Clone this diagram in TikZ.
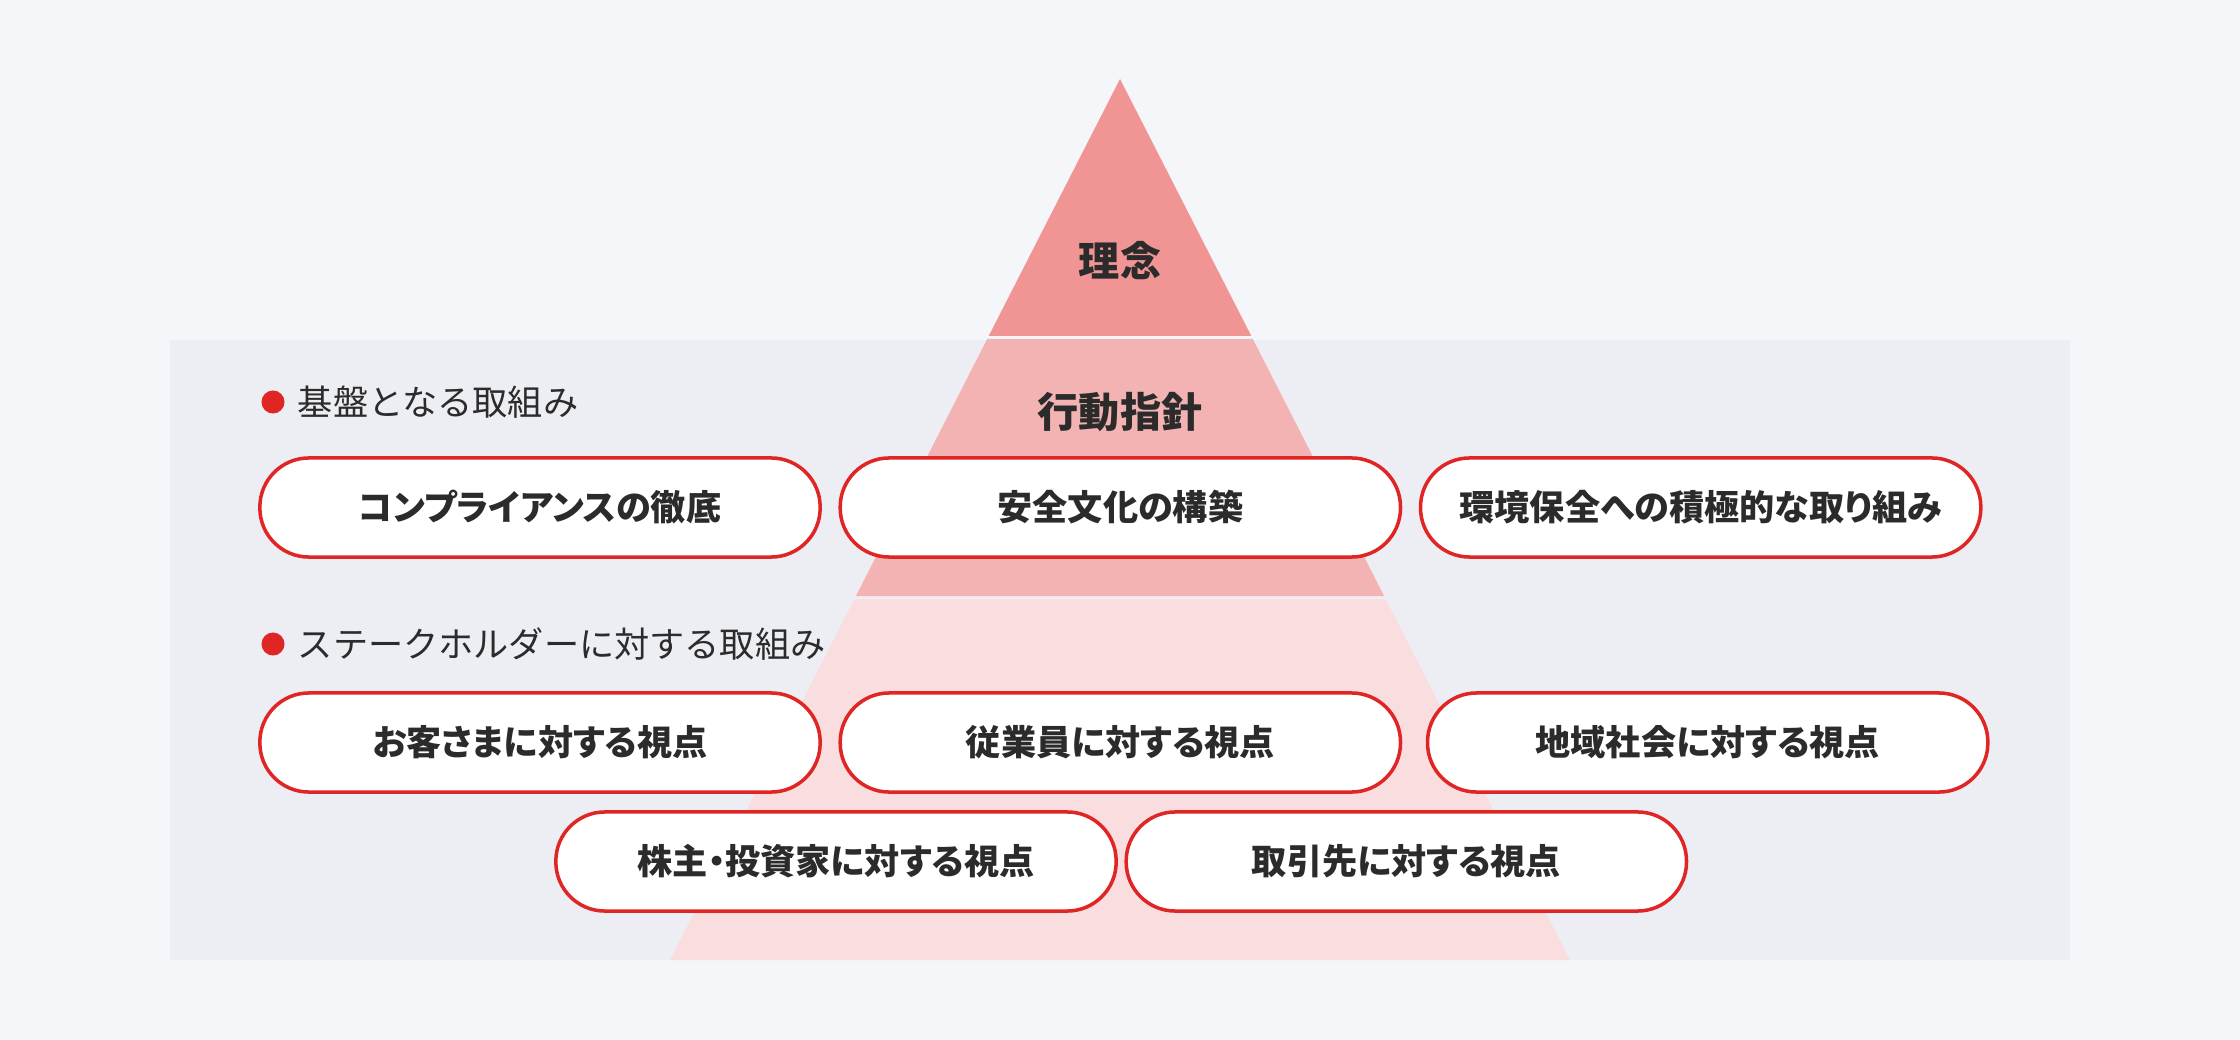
\documentclass[tikz,border=0pt]{standalone}
\usepackage{fontspec}
\setmainfont{Noto Sans CJK JP}
\usepackage{xcolor}
\usetikzlibrary{positioning}
\definecolor{pagebg}{HTML}{F5F6FA}
\definecolor{panelbg}{HTML}{EDEEF3}
\definecolor{tiertop}{HTML}{F09494}
\definecolor{tiermid}{HTML}{F4B3B3}
\definecolor{tierbase}{HTML}{FADDDE}
\definecolor{accent}{HTML}{E02525}
\definecolor{ink}{HTML}{2B2B2B}
\tikzset{%
	pill/.style     = {draw=accent, fill=white, line width=1pt, rectangle, rounded corners=0.49cm, minimum width=5.6cm, minimum height=0.99cm, outer sep=0pt, text centered, text=ink, font=\bfseries\fontsize{10}{12}\selectfont\addfontfeatures{RawFeature=+palt}},
	heading/.style  = {inner sep=0pt, anchor=west, text=ink, font=\fontsize{10}{12}\selectfont},
	dot/.style      = {fill=accent, circle, inner sep=0pt, minimum size=0.23cm}, % Bullet
	tierlabel/.style= {text=ink, font=\bfseries\fontsize{11.7}{14}\selectfont},
}

\begin{document}
\begin{tikzpicture}[x=0.01cm,y=-0.01cm]
	\useasboundingbox (0,0) rectangle (2240,1040);
	\fill[pagebg] (0,0) rectangle (2240,1040);
	\fill[panelbg] (170,340) rectangle (2070,960);
	% pyramid
	\fill[tiertop] (1120,79) -- (1251.3,336) -- (988.7,336) -- cycle;
	\fill[tiermid] (987.2,339) -- (1252.8,339) -- (1384.1,596) -- (855.9,596) -- cycle;
	\fill[tierbase] (854.4,599) -- (1385.6,599) -- (1570,960) -- (670,960) -- cycle;
	\node[tierlabel] (rinen) at (1120,261) {理念};
	\node[tierlabel] (shishin) at (1120,412) {行動指針};
	
	\node[dot] (d1) at (273,402) {};
	\node[heading] (h1) [right=0.12cm of d1] {基盤となる取組み};
	\node[pill] (p11) at (540,507.5) {コンプライアンスの徹底};
	\node[pill] (p12) [right=0.2cm of p11] {安全文化の構築};
	\node[pill] (p13) [right=0.2cm of p12] {環境保全への積極的な取り組み};
	
	\node[dot] (d2) at (273,644) {};
	\node[heading] (h2) [right=0.12cm of d2] {ステークホルダーに対する取組み};
	\node[pill] (p21) at (540,742.5) {お客さまに対する視点};
	\node[pill] (p22) [right=0.2cm of p21] {従業員に対する視点};
	\node[pill] (p23) [right=0.27cm of p22] {地域社会に対する視点};
	\node[pill] (p31) at (836,861.5) {株主・投資家に対する視点};
	\node[pill] (p32) [right=0.1cm of p31] {取引先に対する視点};
\end{tikzpicture}
\end{document}
